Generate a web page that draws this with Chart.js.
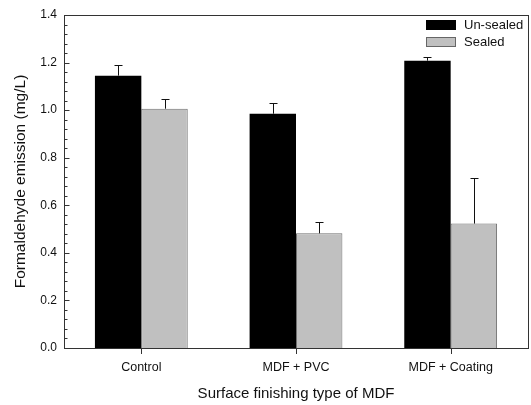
<!DOCTYPE html>
<html>
<head>
<meta charset="utf-8">
<script src="https://cdn.jsdelivr.net/npm/chart.js@4/dist/chart.umd.min.js"></script>
<style>
html,body{margin:0;padding:0;background:#fff;}
#wrap{width:531px;height:405px;position:relative;}
</style>
</head>
<body>
<div id="wrap"><canvas id="c" width="531" height="405"></canvas></div>
<script>
const categories = ["Control", "MDF + PVC", "MDF + Coating"];
const unsealed = [1.145, 0.985, 1.208];
const unsealedErr = [0.046, 0.046, 0.016];
const sealed = [1.006, 0.482, 0.523];
const sealedErr = [0.040, 0.049, 0.190];
const yTicks = [0.0, 0.2, 0.4, 0.6, 0.8, 1.0, 1.2, 1.4];
const minorStep = 0.04;

const FONT = "'Liberation Sans', Arial, sans-serif";

const decor = {
  id: 'decor',
  afterDatasetsDraw(chart) {
    const ctx = chart.ctx;
    const a = chart.chartArea;
    const ys = chart.scales.y, xs = chart.scales.x;
    ctx.save();
    // error bars
    const errs = [unsealedErr, sealedErr];
    chart.data.datasets.forEach((ds, di) => {
      const meta = chart.getDatasetMeta(di);
      meta.data.forEach((bar, i) => {
        const v = ds.data[i], e = errs[di][i];
        const x = Math.round(bar.x) + 0.5;
        const y0 = ys.getPixelForValue(v);
        const y1 = Math.round(ys.getPixelForValue(v + e)) + 0.5;
        ctx.strokeStyle = '#111';
        ctx.lineWidth = 1;
        ctx.beginPath();
        ctx.moveTo(x, y0);
        ctx.lineTo(x, y1);
        ctx.moveTo(x - 4, y1);
        ctx.lineTo(x + 4, y1);
        ctx.stroke();
      });
    });
    // frame
    ctx.strokeStyle = '#333';
    ctx.lineWidth = 1;
    ctx.strokeRect(Math.round(a.left) + 0.5, Math.round(a.top) + 0.5,
                   Math.round(a.right - a.left), Math.round(a.bottom - a.top));
    // y ticks inward
    ctx.beginPath();
    const lx = Math.round(a.left) + 0.5;
    for (let k = 0; k * minorStep <= 1.4 + 1e-9; k++) {
      const v = k * minorStep;
      const y = Math.round(ys.getPixelForValue(v)) + 0.5;
      const major = (k % 5 === 0);
      ctx.moveTo(lx, y);
      ctx.lineTo(lx + (major ? 5 : 3), y);
    }
    // x ticks outward
    categories.forEach((c, i) => {
      const x = Math.round(xs.getPixelForValue(i)) + 0.5;
      ctx.moveTo(x, Math.round(a.bottom) + 0.5);
      ctx.lineTo(x, Math.round(a.bottom) + 6);
    });
    ctx.stroke();
    // legend
    ctx.font = "13px " + FONT;
    ctx.textBaseline = 'middle';
    ctx.textAlign = 'left';
    const items = [
      {label: chart.data.datasets[0].label, fill: '#000', stroke: '#000', y: 25},
      {label: chart.data.datasets[1].label, fill: '#c0c0c0', stroke: '#666', y: 42}
    ];
    items.forEach(it => {
      ctx.fillStyle = it.fill;
      ctx.fillRect(426, it.y - 4.5, 30, 9);
      ctx.strokeStyle = it.stroke;
      ctx.strokeRect(426.5, it.y - 4.5, 29, 9);
      ctx.fillStyle = '#111';
      ctx.fillText(it.label, 464, it.y);
    });
    ctx.restore();
  }
};

new Chart(document.getElementById('c'), {
  type: 'bar',
  data: {
    labels: categories,
    datasets: [
      {label: 'Un-sealed', data: unsealed, backgroundColor: '#000', borderColor: '#000', borderWidth: 0},
      {label: 'Sealed', data: sealed, backgroundColor: '#c0c0c0', borderColor: '#707070', borderWidth: 1, borderSkipped: 'bottom'}
    ]
  },
  options: {
    responsive: false,
    animation: false,
    layout: {padding: {left: 11, right: 3, top: 15, bottom: 0}},
    plugins: {legend: {display: false}, tooltip: {enabled: false}},
    datasets: {bar: {categoryPercentage: 0.6, barPercentage: 1.0}},
    scales: {
      x: {
        grid: {display: false, drawTicks: false},
        border: {display: false},
        ticks: {font: {family: FONT, size: 12.5}, color: '#111', padding: 12},
        title: {display: true, text: 'Surface finishing type of MDF', font: {family: FONT, size: 15}, color: '#111', padding: {top: 10, bottom: 2}},
        afterFit(s) { s.height = 57; }
      },
      y: {
        min: 0, max: 1.4,
        afterBuildTicks(s) { s.ticks = yTicks.map(v => ({value: v})); },
        grid: {display: false, drawTicks: false},
        border: {display: false},
        ticks: {font: {family: FONT, size: 12}, color: '#111', padding: 7, callback: v => Number(v).toFixed(1)},
        title: {display: true, text: 'Formaldehyde emission (mg/L)', font: {family: FONT, size: 15.5}, color: '#111', padding: {top: 0, bottom: 6}},
        afterFit(s) { s.width = 53; }
      }
    }
  },
  plugins: [decor]
});
</script>
</body>
</html>
